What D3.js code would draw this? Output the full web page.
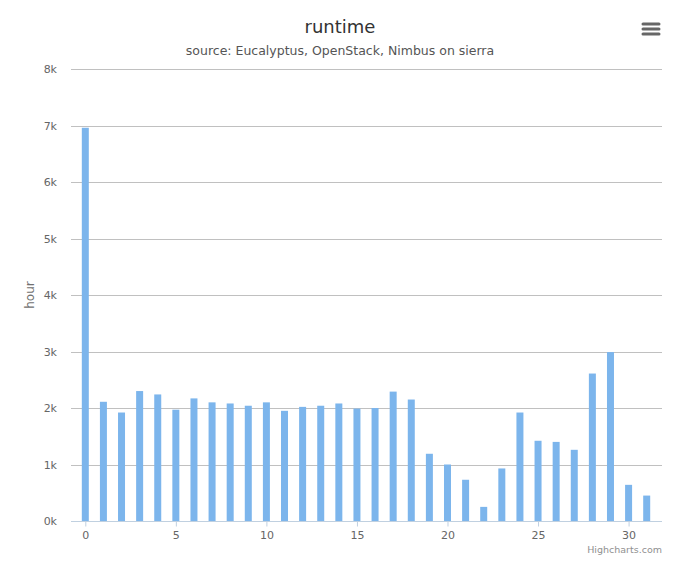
<!DOCTYPE html>
<html>
<head>
<meta charset="utf-8">
<script src="https://cdn.jsdelivr.net/npm/d3@7"></script>
<style>
  body { margin: 0; background: #fff; }
  svg { display: block; font-family: "DejaVu Sans", sans-serif; }
</style>
</head>
<body>
<div id="chart"></div>
<script>
// data
const days = d3.range(0, 32)
const runtimeHours = [6960, 2110, 1920, 2300, 2240, 1970, 2170, 2100, 2080, 2040,
  2100, 1950, 2020, 2040, 2080, 1990, 2000, 2290, 2150, 1190,
  1000, 730, 250, 930, 1920, 1420, 1400, 1260, 2610, 2990,
  640, 450]
const yTicks = [0, 1000, 2000, 3000, 4000, 5000, 6000, 7000, 8000]
const xTicks = [0, 5, 10, 15, 20, 25, 30]

const width = 680, height = 566
const margin = { top: 69, right: 18, bottom: 45, left: 71 }

const svg = d3.select('#chart').append('svg')
  .attr('width', width).attr('height', height)

const x = d3.scaleLinear()
  .domain([-0.79, 31.845])
  .range([margin.left, width - margin.right])

const y = d3.scaleLinear()
  .domain([0, 8000])
  .range([height - margin.bottom, margin.top])

// grid lines
svg.append('g').selectAll('line').data(yTicks.filter(d => d > 0)).enter()
  .append('line')
  .attr('x1', margin.left).attr('x2', width - margin.right)
  .attr('y1', d => Math.round(y(d)) + 0.5).attr('y2', d => Math.round(y(d)) + 0.5)
  .attr('stroke', '#c0c0c0').attr('stroke-width', 1)

// y axis labels
const yAxis = d3.axisLeft(y).tickValues(yTicks).tickSize(0).tickPadding(14)
  .tickFormat(d => (d / 1000) + 'k')
const yg = svg.append('g').attr('transform', `translate(${margin.left},0)`).call(yAxis)
yg.select('.domain').remove()
yg.selectAll('text').attr('fill', '#666').attr('font-size', 11)
  .attr('font-family', '"DejaVu Sans", sans-serif')

// bars
const barW = 7
svg.append('g').selectAll('rect').data(days).enter()
  .append('rect')
  .attr('x', d => x(d) - barW / 2)
  .attr('y', d => y(runtimeHours[d]))
  .attr('width', barW)
  .attr('height', d => y(0) - y(runtimeHours[d]))
  .attr('fill', '#7cb5ec')

// x axis
const xAxis = d3.axisBottom(x).tickValues(xTicks).tickSize(5).tickPadding(5)
const xg = svg.append('g').attr('transform', `translate(0,${Math.round(y(0)) + 0.5})`).call(xAxis)
xg.select('.domain').attr('d', `M${margin.left},0H${width - margin.right}`)
  .attr('stroke', '#c0d0e0')
xg.selectAll('.tick line').attr('stroke', '#c0d0e0')
xg.selectAll('text').attr('fill', '#666').attr('font-size', 11)
  .attr('font-family', '"DejaVu Sans", sans-serif')

// titles
svg.append('text').attr('x', width / 2).attr('y', 33)
  .attr('text-anchor', 'middle').attr('font-size', 18).attr('fill', '#333')
  .text('runtime')
svg.append('text').attr('x', width / 2).attr('y', 55)
  .attr('text-anchor', 'middle').attr('font-size', 12.5).attr('fill', '#555')
  .text('source: Eucalyptus, OpenStack, Nimbus on sierra')

// y axis title
svg.append('text')
  .attr('transform', `translate(34,${(y(0) + y(8000)) / 2}) rotate(-90)`)
  .attr('text-anchor', 'middle').attr('font-size', 12).attr('fill', '#707070')
  .text('hour')

// export menu icon
svg.append('g').selectAll('line').data([0, 5, 10]).enter()
  .append('line')
  .attr('x1', 643).attr('x2', 659)
  .attr('y1', d => 24 + d).attr('y2', d => 24 + d)
  .attr('stroke', '#666').attr('stroke-width', 3).attr('stroke-linecap', 'round')

// credits
svg.append('text').attr('x', width - 18).attr('y', 553)
  .attr('text-anchor', 'end').attr('font-size', 9.5).attr('fill', '#909090')
  .text('Highcharts.com')
</script>
</body>
</html>
